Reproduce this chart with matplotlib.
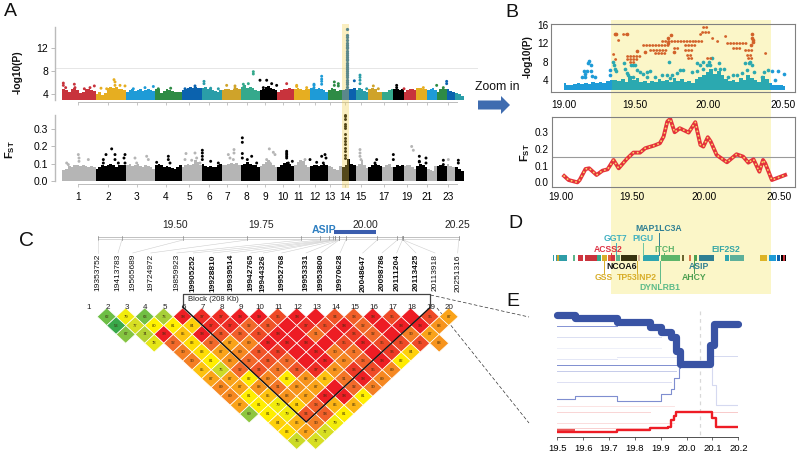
#!/usr/bin/env python3
"""Selection signature figure: Manhattan plots, zoomed region, LD block, gene track, haplotype lines."""
import numpy as np
import matplotlib
matplotlib.use("Agg")
import matplotlib.pyplot as plt
from matplotlib.colors import LinearSegmentedColormap, Normalize
from matplotlib.collections import PolyCollection
from matplotlib.patches import Rectangle, FancyArrow

plt.rcParams["font.family"] = ["Liberation Sans", "DejaVu Sans"]
plt.rcParams["mathtext.fontset"] = "custom"
plt.rcParams["mathtext.bf"] = "Liberation Sans:bold"
plt.rcParams["mathtext.rm"] = "Liberation Sans"

W, H = 800, 457

# panel A
chrom_sizes = [100, 91, 87, 80, 60, 60, 57, 58, 52, 50, 48, 54, 41, 43, 37, 42, 33, 32, 36, 34, 28, 30, 25, 27]
chrom_colors = ["#C8333C", "#E6AE21", "#1E9BD7", "#2E8B45", "#0B62AE", "#2A9DA8", "#CFA32A", "#35A98C", "#000000"]
chrom_tick_labels = ["1", "2", "3", "4", "5", "6", "7", "8", "9", "10", "11", "12", "13", "14", "15", "17", "19", "21", "23"]
chrom_tick_pos = [48, 138, 223, 311, 381, 440, 495, 553, 609, 663, 710, 758, 803, 848, 895, 966, 1033, 1095, 1156]
pval_tops = [
    [4.9, 4.6, 4.4, 4.9, 5.0, 4.7, 4.2, 4.4, 4.8, 4.9, 4.7, 4.5],
    [4.0, 4.3, 3.8, 4.1, 5.0, 5.3, 5.0, 5.2, 4.8, 4.9, 4.6],
    [4.4, 4.6, 4.8, 4.5, 4.7, 4.9, 4.5, 4.6, 4.9, 4.7, 4.5],
    [4.9, 4.8, 4.2, 4.5, 4.8, 4.6, 4.5, 4.3, 4.4, 4.3],
    [4.7, 4.9, 5.0, 5.2, 5.1, 5.3, 5.0, 5.0],
    [5.0, 5.2, 4.8, 5.0, 4.7, 4.5, 4.3, 4.6],
    [4.6, 4.8, 4.8, 4.7, 4.9, 5.0, 4.9],
    [5.3, 5.5, 5.0, 5.2, 5.0, 4.7, 4.5],
    [4.6, 4.9, 5.2, 5.4, 5.1, 4.9, 4.7],
    [4.4, 4.7, 4.9, 4.8, 5.0, 4.9],
    [4.8, 5.0, 4.9, 4.6, 4.9, 4.8],
    [5.0, 5.1, 4.9, 5.0, 4.8, 4.6, 4.4],
    [4.6, 5.0, 4.9, 4.5, 4.7],
    [4.6, 4.8, 4.9, 4.8, 5.0],
    [4.6, 5.0, 4.8, 4.5, 4.3],
    [4.8, 5.0, 4.9, 4.4, 4.4],
    [4.3, 4.3, 4.6, 4.8],
    [4.8, 4.9, 4.7, 4.8],
    [4.4, 4.7, 4.9, 4.8, 4.7],
    [5.0, 5.0, 4.9, 4.8],
    [4.6, 4.9, 5.0, 4.6],
    [4.3, 4.8, 5.0, 4.8],
    [4.9, 4.5, 4.4],
    [4.2, 4.0, 3.7],
]
pval_peak_x = [3, 3, 10, 36, 38, 66, 96, 83, 116, 155, 158, 158, 133, 173, 188, 248, 273, 288, 213,
               325, 368, 398, 398, 383, 425, 425, 445, 468, 518, 518, 493, 543, 543, 543, 543, 573, 573,
               593, 558, 613, 628, 643, 603, 673, 703, 703, 733, 755, 755, 755, 778, 778, 778, 778,
               816, 816, 828, 828, 876, 893, 893, 893, 893, 913, 933, 948, 1003, 1003, 1025, 1083, 1123, 1153, 1153, 1143]
pval_peak_y = [5.9, 5.5, 5.1, 5.7, 5.1, 4.9, 5.4, 5.1, 5.0, 6.5, 6.1, 5.5, 4.9, 5.5, 5.4, 5.1, 5.3, 4.9, 4.9,
               5.0, 4.9, 5.4, 5.0, 4.9, 6.2, 5.8, 5.0, 4.9, 5.4, 5.0, 5.5, 4.9, 5.7, 5.1, 4.9, 7.9, 7.5,
               6.4, 5.8, 6.4, 5.8, 5.5, 5.1, 5.8, 5.5, 5.3, 5.1, 5.5, 5.7, 5.1, 6.6, 6.2, 5.7, 7.1,
               6.1, 5.5, 5.8, 5.4, 6.3, 7.3, 6.9, 6.4, 5.8, 4.9, 5.4, 4.9, 5.5, 5.1, 4.9, 5.1, 5.5, 6.2, 5.8, 5.1]
pval_spike_x = 853
pval_spike_y = [15.35, 14.35, 14.05, 13.5, 12.9, 12.6, 12.3, 12.0, 11.6, 11.2, 10.9, 10.5, 10.2, 9.9, 9.5, 9.1, 8.8,
                8.4, 8.0, 7.7, 7.3, 6.9, 6.5, 6.1, 5.7, 5.3]
pval_threshold = 8.47
fst_tops = [
    [.065, .07, .085, .08, .09, .095, .085, .09, .085, .08, .085, .08],
    [.07, .08, .09, .085, .09, .1, .09, .08, .09, .095, .09],
    [.09, .1, .085, .09, .1, .085, .08, .09, .085, .08, .07],
    [.095, .1, .09, .08, .085, .08, .075, .07, .08, .095],
    [.08, .09, .1, .09, .1, .12, .11, .095],
    [.1, .085, .08, .085, .08, .08, .095, .1],
    [.095, .09, .1, .105, .1, .105, .09],
    [.09, .1, .11, .1, .095, .09, .08],
    [.085, .1, .11, .12, .105, .09, .08],
    [.08, .09, .105, .11, .1, .085],
    [.095, .11, .12, .115, .09, .08],
    [.085, .095, .09, .085, .09, .1, .09],
    [.085, .08, .07, .065, .085],
    [.08, .09, .13, .1, .09],
    [.085, .1, .12, .095, .075],
    [.08, .09, .1, .095, .085],
    [.08, .09, .1, .08],
    [.08, .09, .085, .095],
    [.085, .095, .09, .08, .07],
    [.085, .1, .09, .08],
    [.07, .065, .06, .085],
    [.085, .09, .09, .085],
    [.1, .085, .08],
    [.08, .07, .06],
]
fst_peak_x = [13, 48, 50, 50, 78, 18, 148, 131, 158, 123, 123, 158, 168, 188, 185, 188,
              218, 253, 223, 258, 318, 318, 323, 283, 371, 398, 403, 368, 388, 413, 420, 420, 420, 420, 445, 468,
              515, 515, 498, 503, 513, 540, 540, 540, 540, 568, 555, 583, 621, 633, 638, 613, 623,
              673, 673, 673, 673, 673, 690, 678, 728, 743, 788, 791, 778, 783, 763,
              893, 893, 893, 896, 943, 938, 993, 993, 1048, 1053, 1071, 1071, 1071, 1091, 1091, 1158, 1143, 1143, 1188, 1188]
fst_peak_y = [.104, .153, .133, .114, .124, .095, .186, .153, .153, .124, .104, .124, .104, .153, .133, .104,
              .133, .143, .104, .124, .143, .124, .104, .108, .159, .162, .133, .124, .120, .104, .178, .162, .143, .124, .114, .104,
              .182, .162, .153, .133, .124, .25, .224, .159, .133, .143, .124, .104, .186, .166, .153, .124, .104,
              .172, .162, .153, .143, .133, .114, .104, .124, .124, .153, .133, .143, .104, .108,
              .182, .162, .143, .124, .124, .104, .153, .124, .2, .178, .143, .114, .11, .133, .104, .124, .12, .095, .12, .104]
fst_spike_x = 848
fst_spike_y = [.385, .375, .36, .333, .321, .307, .272, .249, .23, .216, .191, .172, .153, .133]

# panel B
base_x = [19.0, 19.025, 19.05, 19.075, 19.1, 19.125, 19.15, 19.175, 19.2, 19.225, 19.25, 19.275, 19.3, 19.325, 19.35,
          19.375, 19.4, 19.425, 19.45, 19.475, 19.5, 19.525, 19.55, 19.575, 19.6, 19.625, 19.65, 19.675, 19.7, 19.725,
          19.75, 19.775, 19.8, 19.825, 19.85, 19.875, 19.9, 19.925, 19.95, 19.975, 20.0, 20.025, 20.05, 20.075, 20.1,
          20.125, 20.15, 20.175, 20.2, 20.225, 20.25, 20.275, 20.3, 20.325, 20.35, 20.375, 20.4, 20.425, 20.45, 20.475, 20.5]
base_top = [3.3, 3.0, 2.9, 3.1, 3.3, 3.1, 3.4, 3.2, 3.5, 3.3, 3.5, 3.3, 3.7, 3.9, 4.1,
            3.7, 4.2, 3.6, 4.8, 4.1, 4.4, 3.6, 3.7, 3.4, 3.8, 3.5, 4.2, 3.7, 4.0, 3.6,
            4.5, 3.8, 4.2, 3.6, 3.8, 3.4, 4.2, 4.6, 5.0, 5.8, 6.3, 5.3, 5.9, 5.0, 4.3,
            3.7, 4.0, 3.6, 4.5, 4.0, 5.0, 4.4, 4.0, 3.6, 4.8, 4.2, 3.4, 3.0, 3.0, 2.8, 2.7]
teal_x = [19.337, 19.341, 19.348, 19.355, 19.409, 19.416, 19.427, 19.438, 19.457, 19.472, 19.484, 19.495, 19.472, 19.518,
          19.54, 19.563, 19.585, 19.563, 19.619, 19.664, 19.698, 19.716, 19.732, 19.766, 19.789, 19.811, 19.721, 19.868,
          19.902, 19.902, 19.924, 19.947, 19.947, 19.981, 19.97, 20.003, 19.992, 20.026, 20.06, 20.049, 20.083, 20.116,
          20.15, 20.173, 20.207, 20.229, 20.252, 20.263, 20.275, 20.241, 20.286, 20.342, 20.354, 20.381]
teal_y = [8.0, 7.3, 6.5, 5.9, 7.6, 6.5, 5.6, 5.1, 7.3, 7.3, 7.3, 6.2, 4.7, 5.8,
          5.3, 5.8, 6.0, 4.6, 4.6, 5.1, 5.1, 8.0, 5.1, 5.5, 6.2, 6.2, 4.4, 5.8,
          7.6, 6.0, 7.3, 8.0, 6.5, 8.0, 7.3, 8.7, 7.3, 6.5, 6.5, 7.6, 6.5, 4.7,
          5.1, 5.1, 5.5, 7.6, 7.6, 8.0, 7.3, 6.2, 5.8, 4.7, 5.8, 6.2]
blue_x = [19.174, 19.167, 19.183, 19.138, 19.156, 19.183, 19.122, 19.145, 19.19, 19.212, 19.145, 19.314, 19.314, 20.41, 20.455, 20.49, 20.433]
blue_y = [8.1, 7.6, 7.3, 6.0, 6.0, 6.0, 4.6, 4.6, 4.9, 4.7, 5.3, 6.2, 5.1, 6.0, 6.0, 5.3, 4.0]
run_x0 = [19.337, 19.348, 19.37, 19.404, 19.427, 19.427, 19.45, 19.54, 19.585, 19.664, 19.62, 19.748, 19.822, 19.822, 19.833,
          19.845, 19.89, 19.924, 19.935, 19.946, 19.969, 20.003, 20.037, 20.093, 20.105, 20.15, 20.229, 20.241, 20.25, 20.364]
run_x1 = [19.345, 19.352, 19.375, 19.427, 19.517, 19.495, 19.477, 19.72, 19.70, 19.879, 19.70, 19.788, 19.90, 19.879, 19.879,
          19.867, 19.946, 19.946, 19.99, 19.969, 20.003, 20.014, 20.059, 20.116, 20.24, 20.195, 20.285, 20.285, 20.285, 20.387]
run_y = [9.6, 8.5, 12.7, 14.0, 9.2, 8.5, 8.0, 11.6, 10.5, 12.6, 9.8, 10.9, 11.6, 10.5, 9.5,
         8.7, 12.6, 14.0, 14.5, 15.5, 8.7, 13.1, 12.6, 13.6, 12.0, 10.9, 10.5, 9.5, 8.7, 9.8]
odot_x = [19.348, 19.357, 19.43, 19.71, 19.71, 19.73, 20.274, 20.274, 20.285, 20.285, 20.27, 19.75, 19.495, 19.55]
odot_y = [14.0, 14.0, 14.0, 13.2, 12.0, 13.9, 14.0, 13.2, 12.7, 12.2, 11.6, 10.0, 10.4, 10.1]
fst_x = [19.0, 19.03, 19.09, 19.105, 19.145, 19.17, 19.22, 19.26, 19.295, 19.335, 19.37, 19.425, 19.47, 19.515, 19.55, 19.61, 19.65,
         19.675, 19.7, 19.72, 19.75, 19.785, 19.845, 19.89, 19.925, 19.945, 19.975, 19.995, 20.035, 20.105, 20.17, 20.215, 20.25,
         20.285, 20.325, 20.35, 20.365, 20.41, 20.5]
fst_y = [.038, .014, .0, .014, .08, .084, .044, .07, .078, .134, .084, .14, .178, .178, .204, .22, .234,
         .274, .364, .38, .30, .324, .298, .36, .224, .214, .27, .244, .164, .12, .168, .154, .118,
         .138, .064, .134, .114, .014, .044]
fst_threshold = 0.15

# panel C
snp_ids = [19353752, 19413783, 19565689, 19724972, 19859923, 19905252, 19928810, 19939514, 19942765, 19944326,
           19952768, 19953331, 19953800, 19970628, 20048647, 20098786, 20111204, 20113425, 20113918, 20251316]
block_snps = snp_ids[5:18]
asip_span = [19941000, 20045000]
scale_labels = ["19.50", "19.75", "20.00", "20.25"]
ld_rows = {
    1: (1, [62, 79, 63, 73, 98, 97, 97, 98, 99, 95, 98, 100, 94, 93, 98, 95, 100, 95, 87]),
    2: (1, [53, 77, 80, 81, 84, 97, 97, 92, 94, 100, 97, 95, 98, 92, 100, 98, 98, 88]),
    3: (1, [67, 74, 98, 85, 98, 94, 93, 95, 98, 100, 91, 100, 96, 92, 100, 90, 87]),
    4: (2, [78, 92, 83, 92, 87, 89, 98, 98, 98, 100, 95, 98, 95, 95, 95, 88]),
    5: (3, [90, 83, 87, 89, 94, 96, 100, 98, 90, 91, 100, 96, 84]),
    6: (3, [90, 81, 88, 92, 94, 92, 100, 98, 89, 93, 98, 82]),
    7: (3, [85, 76, 92, 94, 91, 94, 97, 88, 96, 95, 89]),
    8: (3, [87, 87, 82, 89, 82, 88, 85, 91, 98, 89]),
    9: (3, [89, 87, 88, 91, 88, 87, 100, 92, 90]),
    10: (3, [89, 81, 85, 88, 87, 98, 98, 81]),
    11: (3, [87, 81, 79, 84, 93, 86, 86]),
    12: (3, [69, 81, 79, 94, 93, 81]),
    13: (4, [84, 86, 90, 79]),
    14: (4, [83, 87, 77]),
    15: (4, [76, 77]),
}
ld_stops = [(53, "#39A84A"), (62, "#6DBE45"), (69, "#8DC63F"), (73, "#A8CF38"), (77, "#D7DF23"),
            (80, "#FFF200"), (82, "#FFEB00"), (86, "#FDB515"), (88, "#F7941D"), (92, "#F26A2A"),
            (95, "#EF4A27"), (98, "#ED1F24"), (100, "#ED1C24")]

# panel D
track_start = [158, 168, 172, 178, 220, 234, 256, 290, 305, 323, 333, 347, 362, 415, 428, 483, 546, 567, 582, 596, 676, 690, 780, 808, 830, 843, 850, 855]
track_end = [163, 172, 178, 202, 226, 248, 290, 302, 322, 333, 345, 360, 410, 421, 476, 540, 551, 572, 591, 643, 686, 732, 802, 828, 840, 850, 855, 858]
track_color = ["#2E9DA8", "#2E9DA8", "#CFA32A", "#2E9DA8", "#5DB58C", "#D0343F", "#C8333C", "#35A98C", "#D8AE2A", "#E0603A",
               "#D0343F", "#5DB58C", "#37330F", "#D9B89A", "#2EA5B0", "#5DB56A", "#6B6530", "#D9754A", "#4C9F50", "#2F7F93",
               "#2EA5B0", "#5DB09A", "#DDB426", "#1E9BD7", "#0B62AE", "#000000", "#C8333C", "#000000"]
gene_names = ["MAP1LC3A", "GGT7", "PIGU", "ACSS2", "ITCH", "EIF2S2", "NCOA6", "ASIP", "GSS", "TP53INP2", "AHCY", "DYNLRB1"]
gene_x = [476, 347, 428, 323, 493, 677, 364, 597, 311, 410, 582, 481]
gene_y = [57, 87, 87, 117, 117, 117, 170, 170, 201, 201, 201, 232]
gene_color = ["#2F7F93", "#3FB0C0", "#3FB0C0", "#DD3344", "#5DB36A", "#35A5A5", "#111111", "#2F7F93", "#D8AE2A", "#D8AE2A", "#4C9F50", "#5DBB8A"]
stem_x = [476, 347, 428, 333, 493, 311, 410, 481, 582]
stem_y0 = [68, 100, 100, 130, 130, 152, 152, 152, 152]
stem_y1 = [135, 135, 135, 135, 135, 190, 190, 220, 190]
stem_color = ["#2F7F93", "#3FB0C0", "#6CC5A0", "#DD3344", "#5DB36A", "#D8AE2A", "#D8AE2A", "#5DBB8A", "#4C9F50"]

# panel E, y is a plain rank height
e_ticks = [19.5, 19.6, 19.7, 19.8, 19.9, 20.0, 20.1, 20.2]
thick_x = [19.5, 19.57, 19.73, 19.86, 19.9, 19.94, 19.96, 19.975, 20.09, 20.105, 20.2]
thick_y = [50, 60, 72, 87, 103, 118, 163, 203, 145, 80, 80]
thin_x = [19.5, 19.57, 19.73, 19.9, 19.94, 19.95, 19.97, 19.975]
thin_y = [310, 300, 316, 295, 278, 245, 215, 205]
red_x = [19.5, 19.73, 19.86, 19.93, 19.94, 19.95, 19.96, 19.975, 20.1, 20.115, 20.2]
red_y = [410, 405, 397, 395, 375, 360, 348, 348, 368, 395, 395]
right_x = [20.09, 20.1, 20.112, 20.2]
right_y = [205, 265, 327, 327]
flat_y = [85, 205, 120, 153, 224, 258, 188]
flat_end = [19.73, 19.97, 19.9, 19.9, 19.96, 19.94, 19.73]
flat_color = ["#8492D4", "#7F8ED0", "#DADEF2", "#EEF0F9", "#C5CBEA", "#DDE0F3", "#E4E7F6"]
pink_y = [348, 330, 383, 398]
pink_end = [19.86, 19.95, 19.95, 19.93]
pink_color = ["#F9D5D5", "#FBE3E3", "#FBDCDC", "#F8CFCF"]


def px_axes(x0, y0, x1, y1, **kw):
    return fig.add_axes([x0 / W, 1 - y1 / H, (x1 - x0) / W, (y1 - y0) / H], **kw)


def add_band(x0, y0, x1, y1, **kw):
    fig.add_artist(Rectangle((x0 / W, 1 - y1 / H), (x1 - x0) / W, (y1 - y0) / H,
                             transform=fig.transFigure, lw=0, **kw))


def chrom_starts():
    return np.concatenate([[0], np.cumsum(chrom_sizes)[:-1]])


def draw_tops(ax, tops, colors, bottom):
    for start, size, vals, c in zip(chrom_starts(), chrom_sizes, tops, colors):
        w = size / len(vals)
        ax.bar(start + np.arange(len(vals)) * w, np.array(vals) - bottom, w, bottom=bottom,
               color=c, align="edge", lw=0)


def manhattan_axes(y0, y1, ylim):
    ax = px_axes(55, y0, 478, y1, facecolor="none")
    ax.set_xlim(-22, 1247)
    ax.set_ylim(*ylim)
    for s in ["top", "right"]:
        ax.spines[s].set_visible(False)
    ax.spines["left"].set_color("#BBBBBB")
    ax.spines["left"].set_linewidth(1.0)
    ax.spines["bottom"].set_color("#BBBBBB")
    ax.spines["bottom"].set_linewidth(0.7)
    ax.spines["bottom"].set_bounds(48, 1185)
    ax.set_xticks(chrom_tick_pos)
    ax.tick_params(axis="x", color="#BBBBBB", length=2, width=0.6, labelsize=7.3)
    ax.tick_params(axis="y", color="#BBBBBB", length=3, width=0.7, labelsize=7.5, pad=2)
    return ax


def panel_a():
    ax = manhattan_axes(24, 102, (2.58, 16.27))
    bar_colors = [chrom_colors[i % 9] for i in range(24)]
    draw_tops(ax, pval_tops, bar_colors, 3.0)
    starts = chrom_starts()
    idx = np.searchsorted(starts, pval_peak_x, side="right") - 1
    ax.scatter(pval_peak_x, pval_peak_y, s=4.5, c=[bar_colors[i] for i in idx], lw=0)
    ax.scatter([pval_spike_x] * len(pval_spike_y), pval_spike_y, s=5.5, c=chrom_colors[4], lw=0)
    ax.plot([-22, 1247], [pval_threshold] * 2, color="#E2E2E2", lw=0.6, zorder=0)
    ax.set_yticks([4, 8, 12])
    ax.spines["left"].set_bounds(3.0, 15.8)
    ax.set_xticklabels([])

    ax2 = manhattan_axes(113, 184, (-0.0176, 0.394))
    gray_black = ["#B5B5B5" if i % 2 == 0 else "#000000" for i in range(24)]
    draw_tops(ax2, fst_tops, gray_black, 0)
    idx = np.searchsorted(starts, fst_peak_x, side="right") - 1
    ax2.scatter(fst_peak_x, fst_peak_y, s=4.5, c=[gray_black[i] for i in idx], lw=0)
    ax2.scatter([fst_spike_x] * len(fst_spike_y), fst_spike_y, s=4.5, c="#000000", lw=0)
    ax2.set_yticks([0.0, 0.1, 0.2, 0.3])
    ax2.set_yticklabels(["0.0", "0.1", "0.2", "0.3"])
    ax2.set_xticklabels(chrom_tick_labels)
    ax2.spines["left"].set_bounds(0, 0.385)
    add_band(342.3, 24, 349, 188, color="#F3D14B", alpha=0.35, zorder=10)


def panel_b():
    ax = px_axes(551, 24, 795, 92, facecolor="none")
    ax.set_xlim(18.914, 20.567)
    ax.set_ylim(1.38, 16.2)
    x = np.array(base_x)
    top = np.array(base_top)
    inside = (x >= 19.325) & (x <= 20.4)
    ax.fill_between(x[x <= 19.325], 1.9, top[x <= 19.325], color="#1E9BD7", lw=0, step="mid")
    ax.fill_between(x[x >= 20.4], 1.9, top[x >= 20.4], color="#1E9BD7", lw=0, step="mid")
    ax.fill_between(x[inside], 1.9, top[inside], color="#2BA9B0", lw=0, step="mid")
    ax.scatter(blue_x, blue_y, s=7, c="#1E9BD7", lw=0)
    ax.scatter(teal_x, teal_y, s=7, c="#2BA9B0", lw=0)
    for x0, x1, y in zip(run_x0, run_x1, run_y):
        ax.plot([x0, x1], [y, y], color="#D2622A", lw=2.0, ls=(0, (0.1, 1.0)), dash_capstyle="round")
    ax.scatter(odot_x, odot_y, s=7, c="#D2622A", lw=0)
    ax.set_yticks([4, 8, 12, 16])
    ax.set_xticks([19.0, 19.485, 19.975, 20.485], ["19.00", "19.50", "20.00", "20.50"])
    ax.tick_params(axis="x", length=0, pad=5.5, labelsize=7.2)
    ax.tick_params(axis="y", length=0, pad=2, labelsize=7.2)
    for s in ax.spines.values():
        s.set_color("#808080")

    ax2 = px_axes(551.5, 116.7, 795, 186.7, facecolor="none")
    ax2.set_xlim(18.914, 20.567)
    ax2.set_ylim(-0.026, 0.393)
    ax2.plot([18.914, 20.567], [fst_threshold] * 2, color="#9A9A9A", lw=0.8)
    ax2.plot(fst_x, fst_y, color="#E5323B", lw=2.8, solid_joinstyle="round")
    ax2.plot(fst_x, fst_y, color="#F8D568", lw=1.3, ls=(0, (0.1, 2.4)), dash_capstyle="round")
    ax2.set_yticks([0.0, 0.1, 0.2, 0.3])
    ax2.set_yticklabels(["0.0", "0.1", "0.2", "0.3"])
    ax2.set_xticks([18.98, 19.46, 19.95, 20.46], ["19.00", "19.50", "20.00", "20.50"])
    ax2.tick_params(axis="x", length=0, pad=3.5, labelsize=7.2)
    ax2.tick_params(axis="y", length=0, pad=2, labelsize=7.2)
    for s in ax2.spines.values():
        s.set_color("#808080")
    add_band(611, 20, 770.7, 294, color="#FBF6C8", zorder=-1)


def panel_c():
    # marker scale, from base pairs to picture x
    over = px_axes(0, 0, W, H, facecolor="none")
    over.set_xlim(0, W)
    over.set_ylim(H, 0)
    over.axis("off")
    pos = lambda p: 97.7 + (p - snp_ids[0]) / (snp_ids[-1] - snp_ids[0]) * 361
    over.plot([pos(snp_ids[0]), pos(snp_ids[-1])], [237, 237], color="#A8A8A8", lw=0.5)
    over.plot([pos(snp_ids[0]), pos(snp_ids[-1])], [239, 239], color="#C8C8C8", lw=0.5)
    label_x = [97.7, 118, 132.7, 150.7, 176.7, 193.3, 213, 230.7, 250.7, 263.3, 281.7, 306, 321, 340, 362.7, 382, 396.7, 416, 435, 457.7]
    for snp, lx in zip(snp_ids, label_x):
        px = pos(snp)
        over.plot([px, px], [235.5, 240], color="#888888", lw=0.5)
        over.plot([px, lx], [240, 253], color="#CFCFCF", lw=0.4)
        over.text(lx, 254, str(snp), rotation=90, ha="center", va="top", fontsize=6,
                  fontweight="bold" if snp in block_snps else "normal", color="#111111")
    over.plot([pos(a) for a in asip_span], [232.3, 232.3], color="#3A5DAE", lw=2.9, solid_capstyle="butt")
    over.text(324, 230, "ASIP", color="#2E7FC1", fontsize=7.6, fontweight="bold", ha="center", va="center")
    for lab, lx in zip(scale_labels, [175, 261, 365, 457.7]):
        over.text(lx, 225, lab, fontsize=7.4, ha="center", va="center", color="#222222")

    # D' triangle, x is marker index, y is marker distance
    ax = px_axes(87, 300, 470, 455, facecolor="none")
    ax.set_xlim(1.5 + (87 - 106.7) / 19, 1.5 + (470 - 106.7) / 19)
    ax.set_ylim(1 + (455 - 316.7) / 8.85, 1 + (300 - 316.7) / 8.85)
    ax.axis("off")
    stops = [((v - 53) / 47, c) for v, c in ld_stops]
    cmap = LinearSegmentedColormap.from_list("ld", stops)
    norm = Normalize(53, 100)
    polys, vals = [], []
    for s, (first, row) in ld_rows.items():
        for k, v in enumerate(row):
            c = first + k + s / 2
            polys.append([(c - 0.5, s), (c, s - 1), (c + 0.5, s), (c, s + 1)])
            vals.append(v)
            if v < 100:
                ax.text(c, s, str(v), fontsize=3, ha="center", va="center", color="#3A2A10", zorder=1)
    ax.add_collection(PolyCollection(polys, array=np.array(vals), cmap=cmap, norm=norm,
                                     edgecolors="#FFFFFF", linewidths=0.5, zorder=0))
    for i in range(1, 21):
        ax.text(i - 0.46, -0.08, str(i), fontsize=5.8, ha="center", va="center", color="#222222")
    # block outline: marker 6 to marker 19
    ax.plot([5.5, 12, 18.5], [-0.1, 12.9, 0], color="#111111", lw=1.0, clip_on=False, zorder=2)
    over.plot([183, 183, 430, 430], [306.7, 294, 294, 308], color="#444444", lw=0.9)
    over.text(188, 299.5, "Block (208 Kb)", fontsize=5.6, ha="left", va="center", color="#222222")
    over.plot([430.5, 529], [295, 317], color="#333333", lw=0.5, ls=(0, (5, 3)))
    over.plot([437, 529], [308, 423], color="#333333", lw=0.5, ls=(0, (5, 3)))
    return over


def panel_d():
    ax = px_axes(500, 210, 800, 300, facecolor="none")
    ax.set_xlim(0, 900)
    ax.set_ylim(270, 0)
    ax.axis("off")
    for x0, x1, c in zip(track_start, track_end, track_color):
        ax.add_patch(Rectangle((x0, 135), x1 - x0, 17, color=c, lw=0))
    for x, y0, y1, c in zip(stem_x, stem_y0, stem_y1, stem_color):
        ax.plot([x, x], [y0, y1], color=c, lw=0.7)
    for name, x, y, c in zip(gene_names, gene_x, gene_y, gene_color):
        ax.text(x, y, name, color=c, fontsize=6.2, fontweight="bold", ha="center", va="center")


def panel_e():
    ax = px_axes(557.3, 308, 738.3, 436.7, facecolor="none")
    ax.set_xlim(19.5, 20.2)
    ax.set_ylim(425, 30)
    ax.plot([20.05, 20.05], [40, 425], color="#D8D8D8", lw=0.9, ls=(0, (3, 3)))
    for y, end, c in zip(flat_y, flat_end, flat_color):
        ax.plot([19.5, end], [y, y], color=c, lw=0.7)
    for y, end, c in zip(pink_y, pink_end, pink_color):
        ax.plot([19.5, end], [y, y], color=c, lw=0.7)
    ax.plot([19.73, 19.97], [181, 181], color="#E4E7F6", lw=0.7)
    ax.plot([20.1, 20.2], [178, 178], color="#D5D9F0", lw=0.7)
    ax.plot([20.1, 20.2], [350, 350], color="#F8CACA", lw=0.7)
    ax.step(right_x, right_y, where="post", color="#D5D9F0", lw=0.8)
    ax.step(thin_x, thin_y, where="post", color="#7F8ED0", lw=0.8)
    ax.fill_between([19.5, 19.57], 400, 412, color="#E85555", lw=0)
    ax.step(red_x, red_y, where="post", color="#EE1C25", lw=1.7, solid_joinstyle="round")
    ax.step(thick_x, thick_y, where="post", color="#3953A4", lw=5.2,
            solid_capstyle="round", solid_joinstyle="round", clip_on=False)
    ax.set_xticks(e_ticks, [f"{v:.1f}" for v in e_ticks])
    ax.set_yticks([])
    for s in ["top", "right", "left"]:
        ax.spines[s].set_visible(False)
    ax.spines["bottom"].set_color("#333333")
    ax.spines["bottom"].set_linewidth(0.6)
    ax.tick_params(axis="x", length=2.5, width=0.5, color="#333333", labelsize=6.8, pad=3)


fig = plt.figure(figsize=(W / 100, H / 100), dpi=100, facecolor="white")

panel_a()
panel_b()
over = panel_c()
panel_d()
panel_e()

# shared labels
for lab, x, y, size in [("A", 10, 12, 14), ("B", 512, 12.5, 14), ("C", 26, 240, 15), ("D", 515, 223, 14), ("E", 513, 302, 14)]:
    over.text(x, y, lab, fontsize=size, ha="center", va="center", color="#111111")
over.text(17.7, 72, "-log10(P)", rotation=90, fontsize=7.4, fontweight="bold", ha="center", va="center", color="#111111")
over.text(10, 150, r"$\mathbf{F_{ST}}$", rotation=90, fontsize=8, ha="center", va="center", color="#111111")
over.text(528, 57, "-log10(P)", rotation=90, fontsize=7.2, fontweight="bold", ha="center", va="center", color="#111111")
over.text(525, 153, r"$\mathbf{F_{ST}}$", rotation=90, fontsize=8, ha="center", va="center", color="#111111")
over.text(497, 87, "Zoom in", fontsize=8.8, ha="center", va="center", color="#111111")
over.add_patch(FancyArrow(478, 105, 32, 0, width=9, head_width=18, head_length=9, length_includes_head=True,
                          color="#3F6CB0", lw=0))

fig.savefig("out.png", dpi=100)
plt.close(fig)
